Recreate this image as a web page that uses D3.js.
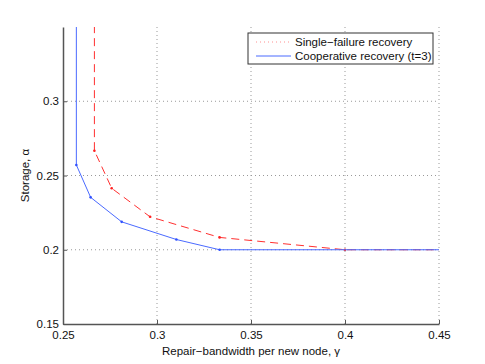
<!DOCTYPE html>
<html>
<head>
<meta charset="utf-8">
<script src="https://cdn.jsdelivr.net/npm/d3@7"></script>
<style>
  body { margin: 0; background: #fff; }
  text { font-family: "Liberation Sans", Arial, sans-serif; }
</style>
</head>
<body>
<script>
// single-failure recovery (red dashed)
const singleGamma = [0.2667, 0.2667, 0.2759, 0.2963, 0.3333, 0.4, 0.45];
const singleAlpha = [0.36, 0.2667, 0.2414, 0.2222, 0.2083, 0.2, 0.2];
// cooperative recovery, t=3 (blue solid)
const coopGamma = [0.2571, 0.2571, 0.2647, 0.2812, 0.3103, 0.3333, 0.45];
const coopAlpha = [0.36, 0.2571, 0.2353, 0.2188, 0.2069, 0.2, 0.2];
// which points get a dot marker
const singleMarked = [1, 2, 3, 4, 5];
const coopMarked = [1, 2, 3, 4, 5];

const xTicks = [0.25, 0.3, 0.35, 0.4, 0.45];
const yTicks = [0.15, 0.2, 0.25, 0.3];
const legendLabels = ['Single\u2212failure recovery', 'Cooperative recovery (t=3)'];

const width = 485, height = 364;
const margin = {top: 27, right: 46, bottom: 40, left: 63};

const svg = d3.select('body').append('svg')
  .attr('width', width)
  .attr('height', height);

const x = d3.scaleLinear().domain([0.25, 0.45]).range([margin.left, width - margin.right]);
const y = d3.scaleLinear().domain([0.15, 0.35]).range([height - margin.bottom, margin.top]);

// grid, dotted
svg.append('g').selectAll('line.gx')
  .data(xTicks.slice(1))
  .enter().append('line')
  .attr('x1', d => x(d)).attr('x2', d => x(d))
  .attr('y1', y(0.15)).attr('y2', y(0.35))
  .attr('stroke', '#999').attr('stroke-width', 1)
  .attr('stroke-dasharray', '1,3');

svg.append('g').selectAll('line.gy')
  .data(yTicks.slice(1))
  .enter().append('line')
  .attr('x1', x(0.25)).attr('x2', x(0.45))
  .attr('y1', d => y(d)).attr('y2', d => y(d))
  .attr('stroke', '#999').attr('stroke-width', 1)
  .attr('stroke-dasharray', '1,3');

const clipId = 'plotclip';
svg.append('clipPath').attr('id', clipId)
  .append('rect')
  .attr('x', x(0.25)).attr('y', y(0.35))
  .attr('width', x(0.45) - x(0.25) + 1)
  .attr('height', y(0.15) - y(0.35));

const line = d3.line().x(d => x(d[0])).y(d => y(d[1]));
const plot = svg.append('g').attr('clip-path', 'url(#' + clipId + ')');

const singlePts = singleGamma.map((g, i) => [g, singleAlpha[i]]);
const coopPts = coopGamma.map((g, i) => [g, coopAlpha[i]]);

plot.append('path')
  .attr('d', line(singlePts))
  .attr('fill', 'none')
  .attr('stroke', '#ff3030')
  .attr('stroke-width', 1)
  .attr('stroke-dasharray', '8,5');

plot.selectAll('circle.s')
  .data(singleMarked.map(i => singlePts[i]))
  .enter().append('circle')
  .attr('cx', d => x(d[0])).attr('cy', d => y(d[1]))
  .attr('r', 1.3).attr('fill', '#ff2020');

plot.append('path')
  .attr('d', line(coopPts))
  .attr('fill', 'none')
  .attr('stroke', '#4a6aff')
  .attr('stroke-width', 1);

plot.selectAll('circle.c')
  .data(coopMarked.map(i => coopPts[i]))
  .enter().append('circle')
  .attr('cx', d => x(d[0])).attr('cy', d => y(d[1]))
  .attr('r', 1.3).attr('fill', '#3050ff');

// axes (ticks pointing in, left + bottom only)
const axisColor = '#555';
const xAxis = svg.append('g')
  .attr('transform', 'translate(0,' + y(0.15) + ')')
  .call(d3.axisBottom(x).tickValues(xTicks).tickSizeInner(-4).tickSizeOuter(0).tickFormat(d3.format('')));
const yAxis = svg.append('g')
  .attr('transform', 'translate(' + x(0.25) + ',0)')
  .call(d3.axisLeft(y).tickValues(yTicks).tickSizeInner(-4).tickSizeOuter(0).tickFormat(d3.format('')));

[xAxis, yAxis].forEach(a => {
  a.select('.domain').attr('stroke', axisColor).attr('stroke-width', 1.5);
  a.selectAll('.tick line').attr('stroke', axisColor);
  a.selectAll('.tick text').attr('fill', '#111').attr('font-size', 11.5)
    .attr('font-family', '"Liberation Sans", Arial, sans-serif');
});
xAxis.selectAll('.tick text').attr('dy', '1.05em').attr('y', 3);
yAxis.selectAll('.tick text').attr('x', -4);

// axis titles
svg.append('text')
  .attr('x', x(0.35)).attr('y', 355)
  .attr('text-anchor', 'middle')
  .attr('font-size', 11.5).attr('fill', '#111')
  .text('Repair\u2212bandwidth per new node, \u03b3');

svg.append('text')
  .attr('transform', 'translate(29,' + y(0.25) + ') rotate(-90)')
  .attr('text-anchor', 'middle')
  .attr('font-size', 11.5).attr('fill', '#111')
  .text('Storage, \u03b1');

// legend
const lg = svg.append('g').attr('transform', 'translate(248,33)');
lg.append('rect')
  .attr('width', 185).attr('height', 31)
  .attr('fill', '#fff').attr('stroke', '#333').attr('stroke-width', 1);

const legendStyles = [
  {stroke: '#ff9090', dash: '1,3'},
  {stroke: '#4a6aff', dash: null}
];
legendLabels.forEach((label, i) => {
  const yy = 9 + i * 14;
  lg.append('line')
    .attr('x1', 8).attr('x2', 43)
    .attr('y1', yy).attr('y2', yy)
    .attr('stroke', legendStyles[i].stroke)
    .attr('stroke-dasharray', legendStyles[i].dash);
  lg.append('text')
    .attr('x', 47).attr('y', yy + 4)
    .attr('font-size', 11.5).attr('fill', '#111')
    .text(label);
});
</script>
</body>
</html>
